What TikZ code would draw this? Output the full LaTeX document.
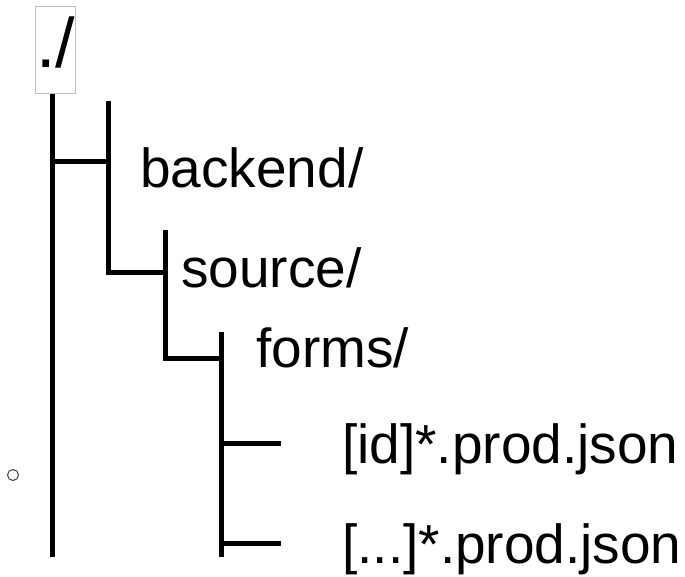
\documentclass[tikz,border=0pt]{standalone}
\usepackage{fontspec}
\setmainfont{Liberation Sans}
\usepackage{tikz}
\usetikzlibrary{positioning}

\begin{document}
\begin{tikzpicture}[
    x=1pt, y=-1pt,
    rootbox/.style={rectangle, draw=black!25, line width=1pt, inner sep=0pt, minimum width=40pt, text height=61pt, text depth=26pt, font=\fontsize{70}{74}\selectfont},
    entry/.style={anchor=base west, inner sep=0pt, font=\fontsize{55}{60}\selectfont},
    branch/.style={line width=5pt, line cap=rect}
]
\useasboundingbox (0,0) rectangle (685,576);

% labels
\node (root) [rootbox, anchor=north west] at (35,6) {./};
\node (backend) [entry] at (140,187) {backend/};
\node (source) [entry] at (181,287) {source/};
\node (forms) [entry] at (256,367) {forms/};
\node (idfile) [entry] at (342,463) {[id]*.prod.json};
\node (otherfile) [entry] at (342,563) {[...]*.prod.json};

% joints of the tree
\coordinate (trunkend) at (52,557);
\coordinate (j1) at (52,161);
\coordinate (b1top) at (108,103);
\coordinate (b1) at (108,161);
\coordinate (b1end) at (108,272);
\coordinate (b2top) at (165,232);
\coordinate (b2end) at (165,358);
\coordinate (b3top) at (221,332);
\coordinate (b3end) at (221,557);
\coordinate (leaf1) at (278,443);
\coordinate (leaf2) at (278,543);

\draw [line width=5pt] (root.south -| trunkend) -- (trunkend);
\draw [branch] (j1) -- (b1);
\draw [branch] (b1top) -- (b1end) -- (b1end -| b2top);
\draw [branch] (b2top) -- (b2end) -- (b2end -| b3top);
\draw [line width=5pt] (b3top) -- (b3end);
\draw [branch] (leaf1 -| b3top) -- (leaf1);
\draw [branch] (leaf2 -| b3top) -- (leaf2);

\node (dot) [circle, draw=black!75, line width=1pt, minimum size=11pt, inner sep=0pt] at (13,475) {};
\end{tikzpicture}
\end{document}
